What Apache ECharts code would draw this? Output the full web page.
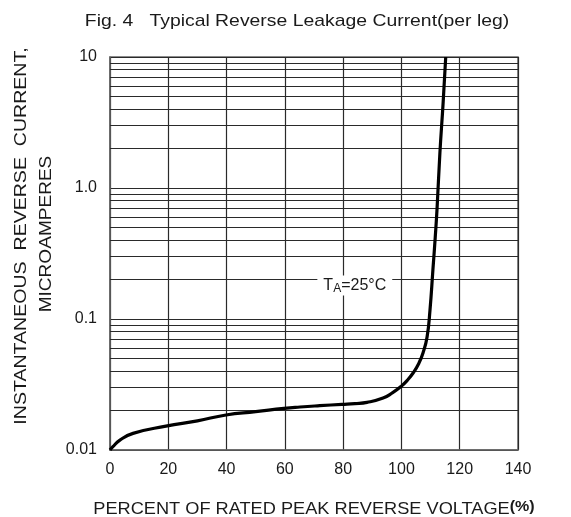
<!DOCTYPE html>
<html>
<head>
<meta charset="utf-8">
<script src="https://cdn.jsdelivr.net/npm/echarts@6/dist/echarts.min.js"></script>
<style>
html,body{margin:0;padding:0;background:#fff;}
#chart{width:571px;height:517px;}
</style>
</head>
<body>
<div id="chart"></div>
<script>
// ---- data ----
var percentVoltage = [0, 1, 3.4, 7.9, 19.2, 30, 39.8, 50, 59.7, 65.2, 72, 79.6, 84, 88.2, 93.7, 97, 99.9, 102, 104, 106, 107.4, 108.8, 109.8, 110.8, 111.6, 112.2, 113.2, 114.3, 115.2];
var reverseCurrent = [0.01, 0.0106, 0.0119, 0.0134, 0.0152, 0.0167, 0.0185, 0.0196, 0.0208, 0.0213, 0.0218, 0.0223, 0.0226, 0.0231, 0.0249, 0.0274, 0.0306, 0.034, 0.0387, 0.046, 0.055, 0.073, 0.117, 0.237, 0.42, 0.68, 1.85, 4.45, 10];
var xTicks = [0, 20, 40, 60, 80, 100, 120, 140];
var yTickLabels = {"10": "10", "1": "1.0", "0.1": "0.1", "0.01": "0.01"};
var decades = [0.01, 0.1, 1];
var minorMultipliers = [2, 3, 4, 5, 6, 7, 8, 9];
var annotationX = 84, annotationY = 0.18;

var titleText = "Fig. 4   Typical Reverse Leakage Current(per leg)";
var yName1 = "INSTANTANEOUS  REVERSE  CURRENT,";
var yName2 = "MICROAMPERES";
var xName = "PERCENT OF RATED PEAK REVERSE VOLTAGE";
var xUnit = "(%)";

var FONT = "'Liberation Sans', Arial, sans-serif";

var minorLines = [];
decades.forEach(function (d) {
  minorMultipliers.forEach(function (m) {
    minorLines.push({ yAxis: +(d * m).toPrecision(3) });
  });
});

var seriesData = percentVoltage.map(function (x, i) { return [x, reverseCurrent[i]]; });

var chart = echarts.init(document.getElementById('chart'), null, { renderer: 'canvas' });
chart.setOption({
  backgroundColor: '#fff',
  animation: false,
  grid: {
    left: 110, right: 53, top: 57, bottom: 67,
    outerBoundsMode: 'none', containLabel: false,
    show: true, borderColor: '#666', borderWidth: 1.5, backgroundColor: '#fff'
  },
  xAxis: {
    type: 'value', min: 0, max: 140, interval: 20,
    axisLine: { show: true, lineStyle: { color: '#666', width: 1.5 } },
    axisTick: { show: false },
    axisLabel: { fontFamily: FONT, fontSize: 16, color: '#1a1a1a', margin: 12 },
    splitLine: { show: true, lineStyle: { color: '#2a2a2a', width: 1.2 } }
  },
  yAxis: {
    type: 'log', logBase: 10, min: 0.01, max: 10,
    axisLine: { show: true, lineStyle: { color: '#666', width: 1.5 } },
    axisTick: { show: false },
    axisLabel: {
      fontFamily: FONT, fontSize: 16, color: '#1a1a1a', margin: 13,
      formatter: function (v) {
        var k = String(+v.toPrecision(3));
        return yTickLabels[k] !== undefined ? yTickLabels[k] : '';
      }
    },
    splitLine: { show: true, lineStyle: { color: '#2a2a2a', width: 1.2 } }
  },
  graphic: [
    {
      type: 'text', x: 297, y: 21, scaleX: 1.14,
      style: { text: titleText, fontFamily: FONT, fontSize: 17, fill: '#1a1a1a', align: 'center', verticalAlign: 'middle' }
    },
    {
      type: 'text', x: 314, y: 509, scaleX: 1.07,
      style: {
        text: '{a|' + xName + '}{b|' + xUnit + '}',
        align: 'center', verticalAlign: 'middle',
        rich: {
          a: { fontFamily: FONT, fontSize: 17, fill: '#1a1a1a', color: '#1a1a1a' },
          b: { fontFamily: FONT, fontSize: 15, fontWeight: 'bold', color: '#1a1a1a', fill: '#1a1a1a', verticalAlign: 'bottom', padding: [0, 0, 5, 0] }
        }
      }
    },
    {
      type: 'text', x: 21, y: 236, rotation: Math.PI / 2, scaleX: 1.15,
      style: { text: yName1, fontFamily: FONT, fontSize: 17, fill: '#1a1a1a', align: 'center', verticalAlign: 'middle' }
    },
    {
      type: 'text', x: 46, y: 234, rotation: Math.PI / 2, scaleX: 1.12,
      style: { text: yName2, fontFamily: FONT, fontSize: 17, fill: '#1a1a1a', align: 'center', verticalAlign: 'middle' }
    }
  ],
  series: [
    {
      type: 'line',
      data: [],
      silent: true,
      markLine: {
        silent: true, symbol: 'none', label: { show: false },
        lineStyle: { color: '#2a2a2a', width: 1.2, type: 'solid' },
        data: minorLines
      }
    },
    {
      type: 'line',
      data: seriesData,
      showSymbol: false,
      smooth: 0.5,
      lineStyle: { color: '#000', width: 3.2 },
      z: 5,
      markPoint: {
        symbol: 'rect', symbolSize: 1,
        itemStyle: { color: 'rgba(0,0,0,0)' },
        label: {
          show: true, position: 'inside',
          formatter: '{t|T}{s|A}{t|=25°C}',
          backgroundColor: '#fff', padding: [1, 6, 1, 6],
          rich: {
            t: { fontFamily: FONT, fontSize: 16, color: '#1a1a1a' },
            s: { fontFamily: FONT, fontSize: 12, color: '#1a1a1a', verticalAlign: 'bottom', padding: [6, 0, 0, 0] }
          }
        },
        data: [{ coord: [annotationX, annotationY] }]
      }
    }
  ]
});
</script>
</body>
</html>
